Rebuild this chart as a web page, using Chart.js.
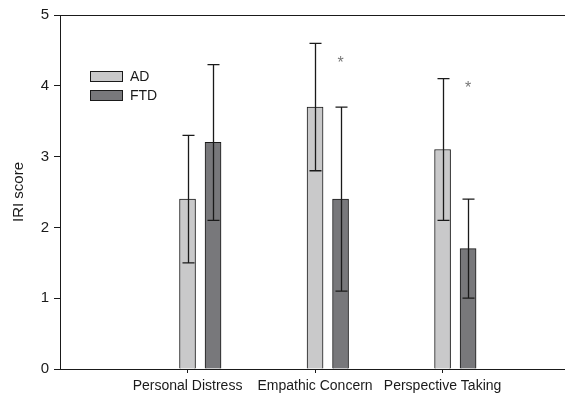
<!DOCTYPE html>
<html>
<head>
<meta charset="utf-8">
<script src="https://cdn.jsdelivr.net/npm/chart.js@4/dist/chart.umd.min.js"></script>
<style>
  html, body { margin: 0; padding: 0; background: #fff; }
  #wrap { width: 565px; height: 399px; position: relative; }
</style>
</head>
<body>
<div id="wrap"><canvas id="iriChart"></canvas></div>
<script>
const categories = ['Personal Distress', 'Empathic Concern', 'Perspective Taking'];
const adMeans = [2.4, 3.7, 3.1];
const adErrors = [0.9, 0.9, 1.0];
const ftdMeans = [3.2, 2.4, 1.7];
const ftdErrors = [1.1, 1.3, 0.7];
// asterisk marks (y value where the * sits), null = none
const sigMarks = [null, 4.37, 4.02];
const yTicks = [0, 1, 2, 3, 4, 5];

const FTD_SHIFT = 0.2;

const ink = '#1a1a1a';
Chart.defaults.font.family = 'Arial, "Liberation Sans", sans-serif';
Chart.defaults.font.size = 14;
Chart.defaults.color = ink;

const errorBars = {
  id: 'errorBars',
  afterDatasetsDraw(chart) {
    const { ctx, scales: { x, y }, chartArea } = chart;
    ctx.save();

    // top frame line
    ctx.strokeStyle = ink;
    ctx.lineWidth = 1;
    ctx.beginPath();
    ctx.moveTo(chartArea.left, chartArea.top + 0.5);
    ctx.lineTo(chartArea.right, chartArea.top + 0.5);
    ctx.stroke();

    ctx.lineWidth = 1.3;
    chart.data.datasets.forEach((ds) => {
      ds.errors.forEach((err, i) => {
        const px = Math.round(x.getPixelForValue(ds.data[i].x)) + 0.5;
        const hi = y.getPixelForValue(ds.data[i].y + err);
        const lo = y.getPixelForValue(ds.data[i].y - err);
        ctx.beginPath();
        ctx.moveTo(px, hi); ctx.lineTo(px, lo);
        ctx.moveTo(px - 6, hi); ctx.lineTo(px + 6, hi);
        ctx.moveTo(px - 6, lo); ctx.lineTo(px + 6, lo);
        ctx.stroke();
      });
    });

    // significance asterisks
    ctx.fillStyle = '#777';
    ctx.font = '16px Arial, "Liberation Sans", sans-serif';
    ctx.textAlign = 'center';
    ctx.textBaseline = 'middle';
    sigMarks.forEach((v, i) => {
      if (v === null) return;
      ctx.fillText('*', x.getPixelForValue(i + 1 + FTD_SHIFT), y.getPixelForValue(v) + 4);
    });

    // legend inside the plot
    ctx.lineWidth = 1;
    ctx.font = '14px Arial, "Liberation Sans", sans-serif';
    ctx.textAlign = 'left';
    chart.data.datasets.forEach((ds, k) => {
      const bx = chartArea.left + 30.5;
      const by = chartArea.top + 56.5 + k * 19;
      ctx.fillStyle = ds.backgroundColor;
      ctx.fillRect(bx, by, 32, 10);
      ctx.strokeStyle = ink;
      ctx.strokeRect(bx, by, 32, 10);
      ctx.fillStyle = ink;
      ctx.fillText(ds.label, bx + 39.5, by + 5.5);
    });
    ctx.restore();
  }
};

new Chart(document.getElementById('iriChart'), {
  type: 'bar',
  data: {
    datasets: [
      {
        label: 'AD',
        data: adMeans.map((v, i) => ({ x: i + 1, y: v })),
        errors: adErrors,
        backgroundColor: '#c9c9ca',
        borderColor: ink,
        borderWidth: 1,
        barThickness: 16,
        grouped: false
      },
      {
        label: 'FTD',
        data: ftdMeans.map((v, i) => ({ x: i + 1 + FTD_SHIFT, y: v })),
        errors: ftdErrors,
        backgroundColor: '#78787b',
        borderColor: ink,
        borderWidth: 1,
        barThickness: 16,
        grouped: false
      }
    ]
  },
  options: {
    responsive: true,
    maintainAspectRatio: false,
    animation: false,
    layout: { padding: { top: 15, left: 0, right: 0, bottom: 0 } },
    plugins: { legend: { display: false }, tooltip: { enabled: false } },
    scales: {
      x: {
        type: 'linear',
        offset: false,
        min: 0,
        max: 3.96,
        afterBuildTicks: (s) => { s.ticks = categories.map((c, i) => ({ value: i + 1 })); },
        afterFit: (s) => { s.height = 30; },
        ticks: {
          maxRotation: 0,
          autoSkip: false,
          padding: 5,
          callback: (v) => categories[v - 1] || ''
        },
        grid: { offset: false, drawOnChartArea: false, tickLength: 4, color: ink },
        border: { color: ink, width: 1 }
      },
      y: {
        min: 0,
        max: 5,
        afterBuildTicks: (s) => { s.ticks = yTicks.map((v) => ({ value: v })); },
        afterFit: (s) => { s.width = 60; },
        ticks: { padding: 5, font: { size: 15 } },
        grid: { drawOnChartArea: false, tickLength: 6, color: ink },
        border: { color: ink, width: 1 },
        title: { display: true, text: 'IRI score', font: { size: 15 }, padding: { top: 10, bottom: 0 } }
      }
    }
  },
  plugins: [errorBars]
});
</script>
</body>
</html>
